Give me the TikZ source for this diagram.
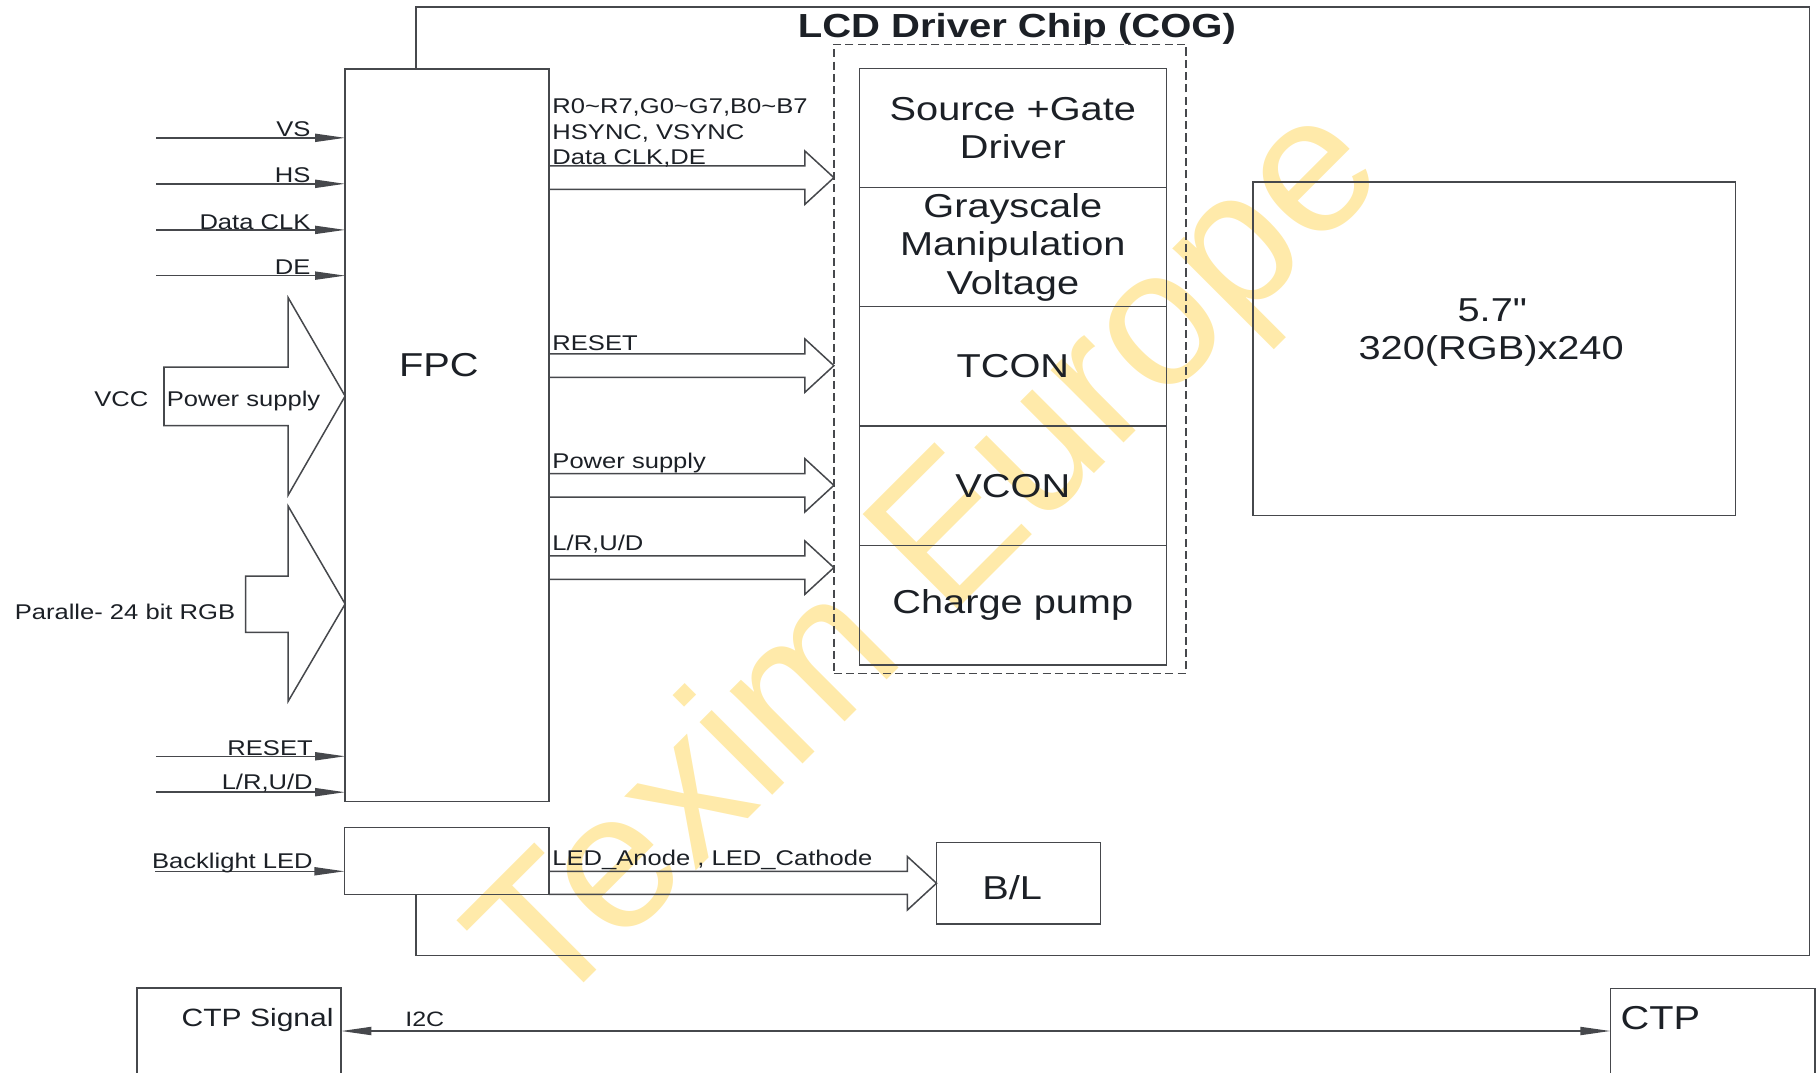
\documentclass[tikz,border=0pt]{standalone}
\usepackage{fontspec}
\setmainfont{Liberation Sans}[FakeStretch=1.2]
\newfontfamily\wmfont{Liberation Sans}
\usetikzlibrary{arrows.meta,fit}
\definecolor{ln}{RGB}{70,72,76}
\definecolor{tx}{RGB}{28,32,38}
\definecolor{wmc}{RGB}{255,234,170}
\tikzset{
  lbl/.style={inner sep=0,outer sep=0,text=tx,font=\fontsize{9.2}{11}\selectfont},
  big/.style={inner sep=0,outer sep=0,text=tx,align=center,font=\fontsize{14.3}{16.5}\selectfont},
  box/.style={draw=ln,inner sep=0,outer sep=0},
  sig/.style={draw=ln,-{Triangle[length=13pt,width=3.5pt]}},
  sigboth/.style={draw=ln,{Triangle[length=13pt,width=3.5pt]}-{Triangle[length=13pt,width=3.5pt]}},
  barrow/.style={draw=ln,line join=miter},
  wmark/.style={rotate=45,anchor=base west,inner sep=0,outer sep=0,text=wmc,font=\wmfont\fontsize{84}{90}\selectfont},
}
\begin{document}
\begin{tikzpicture}[x=0.5pt,y=-0.5pt,line width=0.65pt]
\useasboundingbox (0,0) rectangle (1568,926);
% watermark
\node[wmark] (wm) at (474,879.2) {Texim Europe};

% outer chip frame (hidden behind FPC / backlight connector on the left)
\draw[ln] (359,59.5) -- (359,6) -- (1562.5,6) -- (1562.5,825) -- (359,825) -- (359,772.3);
\node[inner sep=0,text=tx,anchor=base,font=\fontsize{14.4}{16}\selectfont\bfseries] (title) at (878,32.5) {LCD Driver Chip (COG)};

% dashed driver group and stacked blocks
\node[box,dash pattern=on 3.5pt off 1.8pt,fit={(720,38.3) (1024,581.4)}] (cog) {};
\node[box,fit={(742,59) (1007,574.2)}] (stack) {};
\foreach \yy in {162,264.5,367.8,470.9} \draw[ln] (742,\yy) -- (1007,\yy);
\node[big] (src) at (874.5,110.5) {Source +Gate\\Driver};
\node[big] (gray) at (874.5,213.5) {Grayscale\\Manipulation\\Voltage};
\node[big] (tcon) at (874.5,316.5) {TCON};
\node[big] (vcon) at (874.5,419.4) {VCON};
\node[big] (cp) at (874.5,522.5) {Charge pump};

% panel
\node[box,fit={(1081.7,157) (1498.4,445)}] (panel) {};
\node[big] (paneltxt) at (1287.5,287) {5.7\textquotedbl\\320(RGB)x240};

% FPC
\node[box,fit={(298,59.5) (474,692)}] (fpc) {};
\node[big,anchor=base] (fpct) at (379,325) {FPC};

% left signal inputs
\coordinate (vsA) at (135,119);
\coordinate (hsA) at (135,158.7);
\coordinate (clkA) at (135,198.5);
\coordinate (deA) at (135,238);
\coordinate (rstA) at (134.5,653);
\coordinate (lrA) at (134.5,684);
\draw[sig] (vsA) -- (vsA -| fpc.west);
\draw[sig] (hsA) -- (hsA -| fpc.west);
\draw[sig] (clkA) -- (clkA -| fpc.west);
\draw[sig] (deA) -- (deA -| fpc.west);
\draw[sig] (rstA) -- (rstA -| fpc.west);
\draw[sig] (lrA) -- (lrA -| fpc.west);
\node[lbl,anchor=base east] (vsl) at (268,118) {VS};
\node[lbl,anchor=base east] (hsl) at (268,157.7) {HS};
\node[lbl,anchor=base east] (clkl) at (268,198) {Data CLK};
\node[lbl,anchor=base east] (del) at (268,237) {DE};
\node[lbl,anchor=base east] (rstl) at (270,652) {RESET};
\node[lbl,anchor=base east] (lrl) at (270,682) {L/R,U/D};

% left block arrows
\draw[barrow] (141.6,317) -- (248.8,317) -- (248.8,257) -- (298,342) -- (248.8,427.5) -- (248.8,367.5) -- (141.6,367.5) -- cycle;
\node[lbl,anchor=base east] (vccl) at (128,350.6) {VCC};
\node[lbl,anchor=base west] (pwrl) at (144,350.6) {Power supply};
\draw[barrow] (212,497.5) -- (248.8,497.5) -- (248.8,437) -- (298,521.5) -- (248.8,605.5) -- (248.8,546) -- (212,546) -- cycle;
\node[lbl,anchor=base east] (rgbl) at (203,535) {Paralle- 24 bit RGB};

% right block arrows FPC -> driver
\foreach \c in {153.4,315.7,419.05,490.1} {
  \draw[barrow] (474,\c-10.1) -- (695,\c-10.1) -- (695,\c-23) -- (720,\c) -- (695,\c+23) -- (695,\c+10.1) -- (474,\c+10.1);
}
\node[lbl,anchor=base west,align=left] (l1) at (477,98.4) {R0\textasciitilde R7,G0\textasciitilde G7,B0\textasciitilde B7};
\node[lbl,anchor=base west] (l2) at (477,120.3) {HSYNC, VSYNC};
\node[lbl,anchor=base west] (l3) at (477,141.9) {Data CLK,DE};
\node[lbl,anchor=base west] (l4) at (477,302.8) {RESET};
\node[lbl,anchor=base west] (l5) at (477,404.2) {Power supply};
\node[lbl,anchor=base west] (l6) at (477,475.5) {L/R,U/D};

% backlight
\node[box,fit={(297.5,714.5) (474,772.3)}] (blin) {};
\coordinate (blA) at (134,752.3);
\draw[sig] (blA) -- (blA -| blin.west);
\node[lbl,anchor=base east] (bll) at (270,749.5) {Backlight LED};
\node[box,fit={(808.6,727.5) (950,797.8)}] (bl) {};
\node[big,anchor=base] (blt) at (874,777) {B/L};
\draw[barrow] (474,752.3) -- (783.5,752.3) -- (783.5,739.6) -- (808.6,762.6) -- (783.5,785.7) -- (783.5,772.3) -- (474,772.3);
\node[lbl,anchor=base west] (ledl) at (477,747.4) {LED\_Anode , LED\_Cathode};

% CTP
\node[box,fit={(118.2,853) (294.6,940)}] (ctps) {};
\node[box,fit={(1390.5,853.3) (1567,940)}] (ctp) {};
\coordinate (i2cy) at (0,890.2);
\draw[sigboth] (ctps.east |- i2cy) -- (ctp.west |- i2cy);
\node[lbl,anchor=base east,font=\fontsize{10.8}{12}\selectfont] (ctpsl) at (288,886.4) {CTP Signal};
\node[big,anchor=base west] (ctpl) at (1399.3,888.7) {CTP};
\node[lbl,anchor=base west,font=\fontsize{9}{11}\selectfont] (i2cl) at (350,886) {I2C};
\end{tikzpicture}
\end{document}
